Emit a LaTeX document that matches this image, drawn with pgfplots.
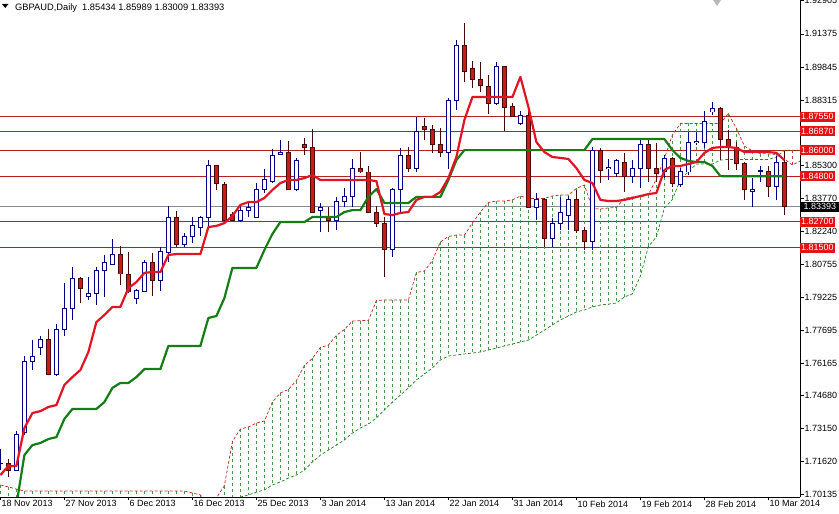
\documentclass[border=0pt]{standalone}
\usepackage{fontspec}
\setmainfont{Liberation Sans}
\usepackage{pgfplots}
\usepackage{pgfplotstable}
\pgfplotsset{compat=1.18}

\definecolor{bullc}{RGB}{0,0,128}
\definecolor{bearfill}{RGB}{205,25,25}
\definecolor{bearline}{RGB}{70,10,10}
\definecolor{tenkan}{RGB}{225,20,35}
\definecolor{kijun}{RGB}{20,125,20}
\definecolor{spana}{RGB}{190,40,30}
\definecolor{spanb}{RGB}{30,130,30}
\definecolor{hatchg}{RGB}{70,155,70}
\definecolor{hatchr}{RGB}{200,60,60}
\definecolor{levelc}{RGB}{175,35,35}
\definecolor{labelred}{RGB}{228,18,18}
\definecolor{pricegray}{RGB}{130,140,150}

\pgfplotstableread{
i O H L C
0 1.7156 1.7221 1.7124 1.7156
1 1.7152 1.7175 1.7092 1.7124
2 1.7124 1.7304 1.7119 1.7290
3 1.7295 1.7650 1.7286 1.7623
4 1.7623 1.7724 1.7586 1.7650
5 1.7692 1.7743 1.7655 1.7729
6 1.7729 1.7775 1.7563 1.7567
7 1.7563 1.7798 1.7558 1.7775
8 1.7775 1.7987 1.7743 1.7872
9 1.7872 1.8061 1.7817 1.8006
10 1.8006 1.8015 1.7895 1.7960
11 1.7923 1.8015 1.7909 1.7941
12 1.7941 1.8061 1.7886 1.8043
13 1.8043 1.8117 1.7923 1.8080
14 1.8075 1.8191 1.8071 1.8117
15 1.8121 1.8158 1.7978 1.8029
16 1.8029 1.8131 1.7941 1.7946
17 1.7914 1.7960 1.7890 1.7955
18 1.7950 1.8094 1.7946 1.8080
19 1.8080 1.8126 1.7927 1.7997
20 1.7997 1.8154 1.7950 1.8131
21 1.8126 1.8343 1.8084 1.8288
22 1.8288 1.8320 1.8154 1.8163
23 1.8163 1.8218 1.8154 1.8200
24 1.8200 1.8292 1.8172 1.8251
25 1.8246 1.8297 1.8204 1.8288
26 1.8288 1.8555 1.8246 1.8528
27 1.8528 1.8532 1.8417 1.8445
28 1.8440 1.8454 1.8274 1.8278
29 1.8306 1.8315 1.8274 1.8278
30 1.8274 1.8348 1.8269 1.8324
31 1.8324 1.8357 1.8292 1.8338
32 1.8292 1.8449 1.8288 1.8421
33 1.8417 1.8514 1.8403 1.8463
34 1.8458 1.8606 1.8449 1.8574
35 1.8583 1.8648 1.8578 1.8588
36 1.8588 1.8643 1.8417 1.8417
37 1.8417 1.8565 1.8412 1.8555
38 1.8629 1.8657 1.8578 1.8615
39 1.8615 1.8698 1.8315 1.8315
40 1.8320 1.8357 1.8223 1.8338
41 1.8292 1.8338 1.8223 1.8274
42 1.8274 1.8385 1.8232 1.8366
43 1.8366 1.8426 1.8338 1.8385
44 1.8385 1.8560 1.8338 1.8518
45 1.8518 1.8592 1.8495 1.8500
46 1.8500 1.8528 1.8311 1.8315
47 1.8311 1.8343 1.8246 1.8264
48 1.8260 1.8292 1.8015 1.8140
49 1.8140 1.8426 1.8107 1.8421
50 1.8417 1.8611 1.8311 1.8574
51 1.8574 1.8615 1.8500 1.8518
52 1.8518 1.8754 1.8500 1.8685
53 1.8708 1.8749 1.8648 1.8698
54 1.8698 1.8717 1.8588 1.8625
55 1.8625 1.8703 1.8569 1.8588
56 1.8588 1.8842 1.8514 1.8828
57 1.8828 1.9109 1.8786 1.9086
58 1.9086 1.9188 1.8915 1.8966
59 1.8980 1.9012 1.8888 1.8925
60 1.8925 1.9008 1.8869 1.8897
61 1.8897 1.8948 1.8768 1.8818
62 1.8818 1.9008 1.8809 1.8985
63 1.8985 1.8989 1.8689 1.8800
64 1.8800 1.8818 1.8754 1.8758
65 1.8722 1.8782 1.8717 1.8763
66 1.8763 1.8795 1.8334 1.8338
67 1.8338 1.8403 1.8278 1.8371
68 1.8371 1.8380 1.8154 1.8195
69 1.8195 1.8288 1.8154 1.8264
70 1.8264 1.8385 1.8232 1.8311
71 1.8297 1.8389 1.8232 1.8371
72 1.8371 1.8417 1.8218 1.8232
73 1.8232 1.8246 1.8140 1.8177
74 1.8177 1.8615 1.8140 1.8597
75 1.8601 1.8611 1.8449 1.8509
76 1.8514 1.8560 1.8463 1.8523
77 1.8495 1.8560 1.8477 1.8551
78 1.8546 1.8588 1.8408 1.8481
79 1.8477 1.8555 1.8449 1.8514
80 1.8514 1.8652 1.8426 1.8625
81 1.8625 1.8648 1.8454 1.8514
82 1.8514 1.8634 1.8454 1.8495
83 1.8500 1.8578 1.8472 1.8560
84 1.8560 1.8569 1.8431 1.8445
85 1.8440 1.8518 1.8431 1.8500
86 1.8500 1.8685 1.8486 1.8638
87 1.8638 1.8685 1.8625 1.8643
88 1.8638 1.8782 1.8611 1.8735
89 1.8777 1.8823 1.8763 1.8795
90 1.8795 1.8800 1.8555 1.8648
91 1.8648 1.8694 1.8509 1.8611
92 1.8611 1.8638 1.8509 1.8541
93 1.8541 1.8546 1.8371 1.8417
94 1.8412 1.8472 1.8338 1.8417
95 1.8504 1.8528 1.8454 1.8505
96 1.8504 1.8528 1.8385 1.8435
97 1.8431 1.8574 1.8371 1.8546
98 1.85434 1.85989 1.83009 1.83393
}\candles

\pgfplotstableread{
i T K
0 1.7101 1.6801
1 1.7143 1.6847
2 1.7143 1.6962
3 1.7318 1.7193
4 1.7387 1.7239
5 1.7396 1.7249
6 1.7415 1.7267
7 1.7424 1.7276
8 1.7517 1.7360
9 1.7553 1.7406
10 1.7586 1.7406
11 1.7669 1.7406
12 1.7807 1.7406
13 1.7840 1.7438
14 1.7877 1.7503
15 1.7877 1.7526
16 1.7964 1.7526
17 1.7992 1.7553
18 1.8034 1.7590
19 1.8038 1.7590
20 1.8038 1.7590
21 1.8117 1.7697
22 1.8121 1.7697
23 1.8121 1.7697
24 1.8121 1.7697
25 1.8121 1.7697
26 1.8246 1.7826
27 1.8251 1.7835
28 1.8264 1.7918
29 1.8297 1.8057
30 1.8348 1.8057
31 1.8361 1.8057
32 1.8361 1.8057
33 1.8380 1.8140
34 1.8417 1.8214
35 1.8449 1.8269
36 1.8463 1.8269
37 1.8463 1.8269
38 1.8472 1.8269
39 1.8486 1.8292
40 1.8463 1.8292
41 1.8463 1.8292
42 1.8463 1.8292
43 1.8463 1.8315
44 1.8463 1.8324
45 1.8463 1.8324
46 1.8463 1.8385
47 1.8458 1.8421
48 1.8306 1.8357
49 1.8301 1.8357
50 1.8311 1.8357
51 1.8315 1.8357
52 1.8371 1.8385
53 1.8385 1.8385
54 1.8385 1.8385
55 1.8408 1.8385
56 1.8472 1.8463
57 1.8569 1.8555
58 1.8740 1.8601
59 1.8846 1.8601
60 1.8846 1.8601
61 1.8846 1.8601
62 1.8846 1.8601
63 1.8846 1.8601
64 1.8846 1.8601
65 1.8939 1.8601
66 1.8800 1.8601
67 1.8638 1.8601
68 1.8592 1.8601
69 1.8569 1.8601
70 1.8565 1.8601
71 1.8560 1.8601
72 1.8518 1.8601
73 1.8463 1.8601
74 1.8449 1.8652
75 1.8371 1.8652
76 1.8366 1.8652
77 1.8366 1.8652
78 1.8371 1.8652
79 1.8380 1.8652
80 1.8389 1.8652
81 1.8398 1.8652
82 1.8403 1.8652
83 1.8509 1.8652
84 1.8528 1.8601
85 1.8528 1.8565
86 1.8537 1.8551
87 1.8546 1.8546
88 1.8588 1.8546
89 1.8611 1.8528
90 1.8615 1.8481
91 1.8615 1.8480
92 1.8611 1.8480
93 1.8592 1.8480
94 1.8592 1.8480
95 1.8592 1.8480
96 1.8592 1.8480
97 1.8588 1.8480
98 1.8555 1.8480
}\ichi

\pgfplotstableread{
j A B
0 1.7055 1.6939
1 1.7046 1.6939
2 1.7036 1.6939
3 1.7027 1.6939
4 1.7027 1.6939
5 1.7027 1.6939
6 1.7027 1.6939
7 1.7027 1.6939
8 1.7027 1.6939
9 1.7027 1.6939
10 1.7027 1.6939
11 1.7027 1.6939
12 1.7027 1.6939
13 1.7027 1.6939
14 1.7027 1.6939
15 1.7027 1.6939
16 1.7027 1.6939
17 1.7027 1.6939
18 1.7027 1.6939
19 1.7027 1.6939
20 1.7027 1.6939
21 1.7027 1.6939
22 1.7027 1.6939
23 1.7027 1.6939
24 1.7018 1.6939
25 1.7009 1.6939
26 1.6953 1.6939
27 1.6995 1.6939
28 1.7052 1.6939
29 1.7256 1.6986
30 1.7313 1.6999
31 1.7323 1.7009
32 1.7341 1.7022
33 1.7350 1.7032
34 1.7438 1.7055
35 1.7480 1.7069
36 1.7496 1.7087
37 1.7537 1.7101
38 1.7607 1.7124
39 1.7639 1.7161
40 1.7690 1.7193
41 1.7701 1.7216
42 1.7745 1.7239
43 1.7773 1.7263
44 1.7812 1.7295
45 1.7814 1.7318
46 1.7814 1.7336
47 1.7907 1.7364
48 1.7909 1.7401
49 1.7909 1.7438
50 1.7909 1.7470
51 1.7909 1.7503
52 1.8036 1.7540
53 1.8043 1.7567
54 1.8091 1.7595
55 1.8177 1.7632
56 1.8202 1.7650
57 1.8209 1.7655
58 1.8209 1.7660
59 1.8264 1.7664
60 1.8315 1.7669
61 1.8359 1.7678
62 1.8366 1.7687
63 1.8366 1.7697
64 1.8371 1.7706
65 1.8389 1.7715
66 1.8378 1.7724
67 1.8378 1.7747
68 1.8378 1.7770
69 1.8389 1.7794
70 1.8394 1.7817
71 1.8394 1.7835
72 1.8424 1.7854
73 1.8440 1.7863
74 1.8331 1.7877
75 1.8329 1.7886
76 1.8334 1.7890
77 1.8336 1.7895
78 1.8378 1.7923
79 1.8385 1.7937
80 1.8385 1.8020
81 1.8396 1.8156
82 1.8468 1.8200
83 1.8562 1.8334
84 1.8671 1.8373
85 1.8724 1.8465
86 1.8724 1.8502
87 1.8724 1.8537
88 1.8724 1.8537
89 1.8724 1.8537
90 1.8724 1.8555
91 1.8770 1.8558
92 1.8701 1.8558
93 1.8620 1.8558
94 1.8597 1.8558
95 1.8585 1.8558
96 1.8583 1.8558
97 1.8581 1.8569
98 1.8560 1.8601
99 1.8532 1.8601
100 1.8551 1.8601
}\cloud

\begin{document}
\begin{tikzpicture}
\begin{axis}[
  at={(0pt,17pt)}, anchor=south west,
  scale only axis, width=800pt, height=497pt,
  xmin=-0.05, xmax=99.95, ymin=1.69995, ymax=1.92940,
  axis x line*=bottom, axis y line*=right,
  axis line style={black, line width=0.8pt},
  clip mode=individual,
  tick align=outside, major tick length=3.5pt,
  tick style={black, line width=0.6pt},
  xtick={0,8,16,24,32,40,48,56,64,72,80,88,96},
  xticklabels={18 Nov 2013,27 Nov 2013,6 Dec 2013,16 Dec 2013,25 Dec 2013,3 Jan 2014,13 Jan 2014,22 Jan 2014,31 Jan 2014,10 Feb 2014,19 Feb 2014,28 Feb 2014,10 Mar 2014},
  ytick={1.70135,1.71620,1.73150,1.74680,1.76165,1.77695,1.79225,1.80755,1.82240,1.83770,1.85300,1.86785,1.88315,1.89845,1.91375,1.92905},
  yticklabels={1.70135,1.71620,1.73150,1.74680,1.76165,1.77695,1.79225,1.80755,1.82240,1.83770,1.85300,{},1.88315,1.89845,1.91375,1.92905},
  ticklabel style={font=\fontsize{9}{10}\selectfont, text=black},
  xticklabel style={anchor=north west, inner xsep=1pt, inner ysep=1pt, yshift=1pt},
  yticklabel style={anchor=west, inner xsep=1pt},
  extra y ticks={1.8755,1.8687,1.8600,1.8480,1.8270,1.8150},
  extra y tick labels={1.87550,1.86870,1.86000,1.84800,1.82700,1.81500},
  extra y tick style={grid=major, major grid style={levelc, line width=0.8pt}, major tick length=0pt,
     tick label style={fill=labelred, text=white, inner xsep=2.5pt, inner ysep=0pt, minimum height=10pt}},
]
% current price line
\addplot[pricegray, line width=0.7pt, mark=none, forget plot] coordinates {(-1,1.83393) (101,1.83393)};
% cloud hatch
\addplot[forget plot, draw=none, mark=none,
  error bars/.cd, y dir=minus, y explicit, error mark=none,
  error bar style={draw=hatchg, line width=0.6pt, dash pattern=on 3pt off 3pt}]
  table[x=j, y=A, y error expr={(\thisrow{A}>=\thisrow{B}) ? (\thisrow{A}-\thisrow{B}) : 0}] {\cloud};
\addplot[forget plot, draw=none, mark=none,
  error bars/.cd, y dir=minus, y explicit, error mark=none,
  error bar style={draw=hatchr, line width=0.6pt, dash pattern=on 3pt off 3pt}]
  table[x=j, y=B, y error expr={(\thisrow{B}>\thisrow{A}) ? (\thisrow{B}-\thisrow{A}) : 0}] {\cloud};
\addplot[spana, line width=0.7pt, mark=none, dash pattern=on 3pt off 2pt, forget plot] table[x=j, y=A] {\cloud};
\addplot[spanb, line width=0.7pt, mark=none, dash pattern=on 3pt off 2pt, forget plot] table[x=j, y=B] {\cloud};
% wicks
\addplot[forget plot, draw=none, mark=none,
  error bars/.cd, y dir=both, y explicit, error mark=none,
  error bar style={draw=bullc, line width=1pt}]
  table[x=i, y expr={(\thisrow{H}+\thisrow{L})/2}, y error expr={(\thisrow{C}>=\thisrow{O}) ? ((\thisrow{H}-\thisrow{L})/2) : 0}] {\candles};
\addplot[forget plot, draw=none, mark=none,
  error bars/.cd, y dir=both, y explicit, error mark=none,
  error bar style={draw=bearline, line width=1pt}]
  table[x=i, y expr={(\thisrow{H}+\thisrow{L})/2}, y error expr={(\thisrow{C}<\thisrow{O}) ? ((\thisrow{H}-\thisrow{L})/2) : 0}] {\candles};
% bull bodies
\addplot[forget plot, draw=none, mark=none,
  error bars/.cd, y dir=both, y explicit, error mark=none,
  error bar style={draw=bullc, line width=5pt}]
  table[x=i, y expr={(\thisrow{O}+\thisrow{C})/2}, y error expr={(\thisrow{C}>=\thisrow{O}) ? ((\thisrow{C}-\thisrow{O})/2+0.00023) : 0}] {\candles};
\addplot[forget plot, draw=none, mark=none,
  error bars/.cd, y dir=both, y explicit, error mark=none,
  error bar style={draw=white, line width=3pt}]
  table[x=i, y expr={(\thisrow{O}+\thisrow{C})/2}, y error expr={(\thisrow{C}>=\thisrow{O}) ? max((\thisrow{C}-\thisrow{O})/2-0.00023,0) : 0}] {\candles};
% bear bodies
\addplot[forget plot, draw=none, mark=none,
  error bars/.cd, y dir=both, y explicit, error mark=none,
  error bar style={draw=bearline, line width=5pt}]
  table[x=i, y expr={(\thisrow{O}+\thisrow{C})/2}, y error expr={(\thisrow{C}<\thisrow{O}) ? ((\thisrow{O}-\thisrow{C})/2+0.00023) : 0}] {\candles};
\addplot[forget plot, draw=none, mark=none,
  error bars/.cd, y dir=both, y explicit, error mark=none,
  error bar style={draw=bearfill, line width=3pt}]
  table[x=i, y expr={(\thisrow{O}+\thisrow{C})/2}, y error expr={(\thisrow{C}<\thisrow{O}) ? max((\thisrow{O}-\thisrow{C})/2-0.00023,0) : 0}] {\candles};
% kijun and tenkan
\addplot[kijun, line width=2.2pt, mark=none, line join=round, forget plot] table[x=i, y=K] {\ichi};
\addplot[tenkan, line width=2.2pt, mark=none, line join=round, forget plot] table[x=i, y=T] {\ichi};
% current price label
\node[fill=black, text=white, anchor=west, inner xsep=2.5pt, inner ysep=0pt, minimum height=10pt,
  font=\fontsize{9}{10}\selectfont, xshift=1pt] at (axis cs:99.95,1.83393) {1.83393};
\end{axis}
\fill[black] (2pt,510pt) -- (8.5pt,510pt) -- (5.25pt,506pt) -- cycle;
\node[anchor=base west, inner sep=0pt, font=\fontsize{9.3}{11}\selectfont] at (15pt,503pt)
  {GBPAUD,Daily\ \ 1.85434 1.85989 1.83009 1.83393};
\fill[gray!55] (713pt,514pt) -- (721pt,514pt) -- (717pt,508pt) -- cycle;
\pgfresetboundingbox
\useasboundingbox (0,0) rectangle (839pt,514pt);
\end{tikzpicture}
\end{document}
